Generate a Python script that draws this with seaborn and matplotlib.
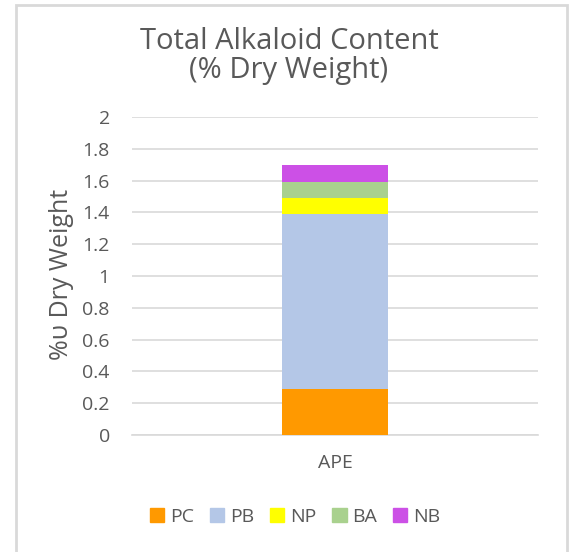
import matplotlib
matplotlib.use("Agg")
import matplotlib.pyplot as plt
import matplotlib.patches as mpatches
import numpy as np
import pandas as pd
import seaborn as sns

# data
category = "APE"
components = ["PC", "PB", "NP", "BA", "NB"]
values = [0.29, 1.10, 0.10, 0.10, 0.11]
colors = ["#FF9900", "#B4C7E7", "#FFFF00", "#A9D18E", "#CC50E6"]
y_ticks = [0, 0.2, 0.4, 0.6, 0.8, 1, 1.2, 1.4, 1.6, 1.8, 2]
y_tick_labels = ["0", "0.2", "0.4", "0.6", "0.8", "1", "1.2", "1.4", "1.6", "1.8", "2"]

sns.set_style("white")
plt.rcParams["font.family"] = ["Open Sans", "DejaVu Sans"]
text_col = "#595959"
grid_col = "#D9D9D9"

W, H = 571, 552
fig = plt.figure(figsize=(W / 100, H / 100), dpi=100)
ax = fig.add_axes([132 / W, 1 - 435 / H, (538 - 132) / W, (435 - 117) / H])

# stacked bar: draw cumulative totals, tallest first
df = pd.DataFrame({"group": [category] * len(components),
                   "component": components,
                   "total": np.cumsum(values)})
for comp, col in reversed(list(zip(components, colors))):
    sub = df[df["component"] == comp]
    sns.barplot(data=sub, x="group", y="total", color=col, width=0.26,
                edgecolor="none", saturation=1, ax=ax, zorder=3)

ax.set_xlim(-0.5, 0.5)
ax.set_ylim(0, 2)
ax.set_yticks(y_ticks)
ax.set_yticklabels(y_tick_labels)
ax.yaxis.grid(True, color=grid_col, linewidth=1.2, zorder=0)
ax.set_axisbelow(True)
for s in ["top", "right", "left"]:
    ax.spines[s].set_visible(False)
ax.spines["bottom"].set_color(grid_col)
ax.spines["bottom"].set_linewidth(1.2)
ax.tick_params(axis="y", length=0, pad=16, labelsize=14, labelcolor=text_col)
ax.tick_params(axis="x", length=0, pad=14, labelsize=14, labelcolor=text_col)
ax.set_xlabel("")
ax.set_ylabel("%\u03c5 Dry Weight", fontsize=18, color=text_col)
ax.yaxis.set_label_coords(-0.142, 0.505)

fig.text(289 / W, 1 - 56 / H, "Total Alkaloid Content\n(% Dry Weight)",
         ha="center", va="center", fontsize=21, color=text_col, linespacing=1.0)

handles = [mpatches.Patch(color=c, label=l) for l, c in zip(components, colors)]
fig.legend(handles=handles, loc="center", bbox_to_anchor=(295 / W, 1 - 517 / H),
           ncol=5, frameon=False, fontsize=14, labelcolor=text_col,
           handlelength=0.75, handleheight=0.75, handletextpad=0.3, columnspacing=0.8)

# chart area border
fig.patches.append(mpatches.Rectangle((16 / W, -0.05), (567 - 16) / W, 1 - 5 / H + 0.05,
                                      transform=fig.transFigure, fill=False,
                                      edgecolor="#D9D9D9", linewidth=2))

fig.savefig("out.png", dpi=100)
